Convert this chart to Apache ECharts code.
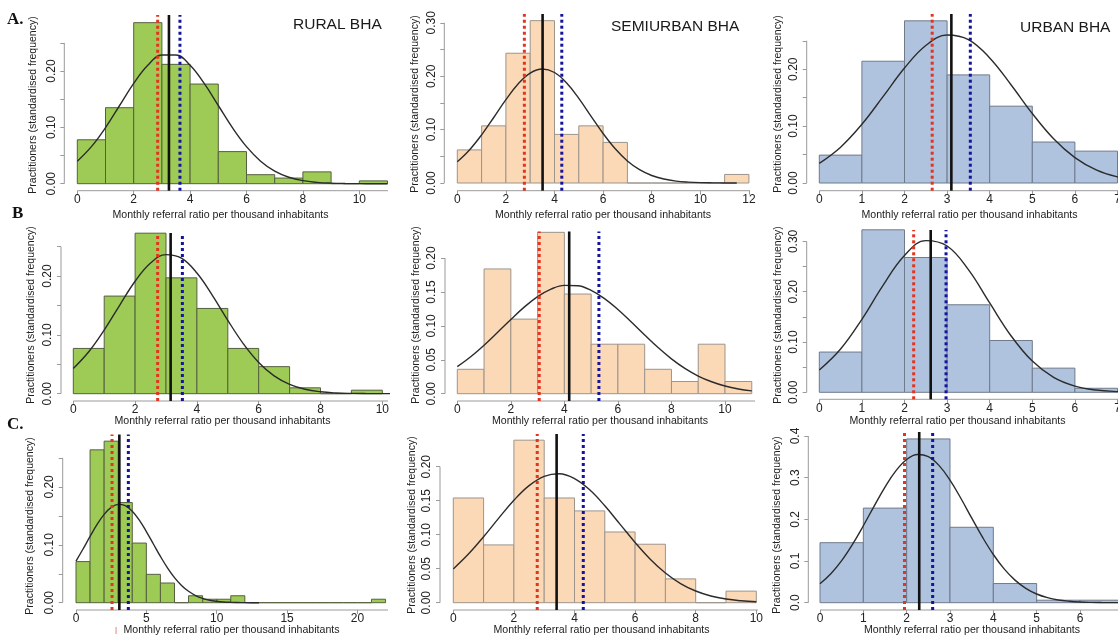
<!DOCTYPE html>
<html>
<head>
<meta charset="utf-8">
<script src="https://cdn.jsdelivr.net/npm/echarts@6/dist/echarts.min.js"></script>
<style>
  html, body { margin: 0; background: #fff; }
  #chart { width: 1118px; height: 635px; }
</style>
</head>
<body>
<div id="chart"></div>
<script>
// bar heights, one bin per unit starting at 0 (standardised frequency)
const ruralA = [0.078, 0.135, 0.286, 0.212, 0.177, 0.057, 0.016, 0.010, 0.021, 0, 0.005];
const semiA  = [0.062, 0.107, 0.243, 0.304, 0.091, 0.107, 0.076, 0, 0, 0, 0, 0.016];
const urbanA = [0.049, 0.214, 0.285, 0.190, 0.135, 0.072, 0.056];
const ruralB = [0.077, 0.166, 0.273, 0.197, 0.145, 0.077, 0.046, 0.010, 0, 0.006];
const semiB  = [0.036, 0.184, 0.110, 0.238, 0.147, 0.073, 0.073, 0.036, 0.018, 0.073, 0.018];
const urbanB = [0.080, 0.323, 0.268, 0.174, 0.103, 0.048, 0.008];
const ruralC = [0.071, 0.264, 0.279, 0.173, 0.103, 0.049, 0.034, 0, 0.012, 0.006, 0.006, 0.012,
                0, 0, 0, 0, 0, 0, 0, 0, 0, 0.006];
const semiC  = [0.154, 0.085, 0.239, 0.154, 0.135, 0.104, 0.086, 0.035, 0, 0.017];
const urbanC = [0.144, 0.227, 0.393, 0.181, 0.046, 0.006, 0.006];

// normal curves, read every half unit (quarter unit for the narrow urban C curve)
const halfSteps = [0, 0.5, 1, 1.5, 2, 2.5, 3, 3.5, 4, 4.5, 5, 5.5, 6, 6.5, 7, 7.5, 8, 8.5, 9, 9.5,
                   10, 10.5, 11, 11.5, 12, 12.5, 13];
const quarterSteps = [0, 0.25, 0.5, 0.75, 1, 1.25, 1.5, 1.75, 2, 2.25, 2.5, 2.75, 3, 3.25, 3.5, 3.75,
                      4, 4.25, 4.5, 4.75, 5, 5.25, 5.5, 5.75, 6, 6.25, 6.5, 6.75, 7];
const curveRuralA = [0.0400, 0.0658, 0.0996, 0.1389, 0.1782, 0.2104, 0.2286, 0.2286, 0.2104, 0.1782, 0.1389,
                     0.0996, 0.0658, 0.0400, 0.0223, 0.0115, 0.0054, 0.0024, 0.0010, 0.0004, 0.0001, 0, 0];
const curveSemiA  = [0.0398, 0.0619, 0.0902, 0.1227, 0.1560, 0.1854, 0.2058, 0.2135, 0.2069, 0.1874, 0.1586,
                     0.1254, 0.0927, 0.0640, 0.0413, 0.0249, 0.0140, 0.0074, 0.0036, 0.0017, 0.0007, 0.0003, 0.0001, 0];
const curveUrbanA = [0.0346, 0.0630, 0.1032, 0.1522, 0.2021, 0.2416, 0.2601, 0.2520, 0.2198, 0.1727, 0.1221,
                     0.0777, 0.0446, 0.0230, 0.0107, 0.0045];
const curveRuralB = [0.0430, 0.0714, 0.1083, 0.1504, 0.1912, 0.2223, 0.2366, 0.2304, 0.2052, 0.1673, 0.1248,
                     0.0852, 0.0532, 0.0304, 0.0159, 0.0076, 0.0033, 0.0013, 0.0005, 0.0002, 0.0001, 0];
const curveSemiB  = [0.0400, 0.0546, 0.0716, 0.0903, 0.1095, 0.1277, 0.1431, 0.1542, 0.1598, 0.1592, 0.1524,
                     0.1403, 0.1242, 0.1057, 0.0865, 0.0680, 0.0514, 0.0374, 0.0261, 0.0176, 0.0113, 0.0070, 0.0042];
const curveUrbanB = [0.0443, 0.0860, 0.1452, 0.2131, 0.2719, 0.3016, 0.2908, 0.2438, 0.1776, 0.1125, 0.0620,
                     0.0297, 0.0124, 0.0045, 0.0014, 0.0004];
const curveRuralC = [0.0717, 0.0927, 0.1144, 0.1351, 0.1525, 0.1646, 0.1698, 0.1676, 0.1581, 0.1426, 0.1229,
                     0.1014, 0.0799, 0.0602, 0.0434, 0.0299, 0.0197, 0.0124, 0.0075, 0.0043, 0.0024, 0.0012,
                     0.0006, 0.0003, 0.0001, 0, 0];
const curveSemiC  = [0.0497, 0.0715, 0.0970, 0.1244, 0.1506, 0.1722, 0.1859, 0.1896, 0.1825, 0.1660, 0.1425,
                     0.1156, 0.0886, 0.0640, 0.0437, 0.0282, 0.0172, 0.0099, 0.0054, 0.0028, 0.0013];
const curveUrbanC = [0.0455, 0.0695, 0.1010, 0.1399, 0.1846, 0.2319, 0.2776, 0.3165, 0.3438, 0.3557, 0.3505,
                     0.3290, 0.2942, 0.2507, 0.2034, 0.1572, 0.1157, 0.0812, 0.0542, 0.0345, 0.0209, 0.0121,
                     0.0066, 0.0035, 0.0017, 0.0008, 0.0004, 0.0002, 0.0001];

// vertical reference lines, panels in reading order
const redDotted  = [2.85, 2.76, 2.65, 2.73, 3.06, 2.215, 2.56, 2.77, 1.95];
const blackSolid = [3.25, 3.51, 3.10, 3.15, 4.18, 2.615, 3.08, 3.41, 2.29];
const blueDotted = [3.64, 4.30, 3.545, 3.53, 5.29, 2.975, 3.72, 4.29, 2.60];

// tick labels
const xTicks10 = [0, 2, 4, 6, 8, 10];
const xTicks12 = [0, 2, 4, 6, 8, 10, 12];
const xTicks7 = [0, 1, 2, 3, 4, 5, 6, 7];
const xTicks6 = [0, 1, 2, 3, 4, 5, 6];
const xTicks20 = [0, 5, 10, 15, 20];
const yTicks25 = [0, 0.05, 0.1, 0.15, 0.2, 0.25];
const yTicks30 = [0, 0.05, 0.1, 0.15, 0.2, 0.25, 0.3];
const yTicks20 = [0, 0.05, 0.1, 0.15, 0.2];
const yTicks40 = [0, 0.1, 0.2, 0.3, 0.4];
const yLabels20 = [0, 0.1, 0.2];
const yLabels30 = [0, 0.1, 0.2, 0.3];

const FONT = '"Liberation Sans", Arial, sans-serif';
const FILLS = ['#9DCB55', '#FCD9B6', '#AFC3DF'];
const EDGES = ['#56603f', '#9d948a', '#6f7a8a'];
const AXIS = '#9a9a9a';
const TEXT = '#222';

// pixel placement of every panel (x0/y0 = pixel of value 0, kx/ky = pixels per unit)
const panels = [
  { bars: ruralA, curve: curveRuralA, cx: halfSteps, col: 0, x0: 77.3, kx: 28.2, y0: 183.7, ky: 563, axX: 64.3, axY: 190.7, right: 388, plotTop: 15, yTop: 0.25, xt: xTicks10, yt: yTicks25, yl: yLabels20, dec: 2, name: [33, 105], xname: [220.5, 215] },
  { bars: semiA, curve: curveSemiA, cx: halfSteps, col: 1, x0: 457.3, kx: 24.3, y0: 183, ky: 534, axX: 444.3, axY: 190.7, right: 750, plotTop: 14, yTop: 0.30, xt: xTicks12, yt: yTicks30, yl: yLabels30, dec: 2, name: [415, 104], xname: [603, 215] },
  { bars: urbanA, curve: curveUrbanA, cx: halfSteps, col: 2, x0: 819.3, kx: 42.6, y0: 183, ky: 569, axX: 806.7, axY: 190.7, right: 1118, plotTop: 14, yTop: 0.25, xt: xTicks7, yt: yTicks25, yl: yLabels20, dec: 2, name: [778, 104], xname: [969.5, 215] },
  { bars: ruralB, curve: curveRuralB, cx: halfSteps, col: 0, x0: 73.3, kx: 30.9, y0: 393.7, ky: 588, axX: 61, axY: 401, right: 388, plotTop: 233, yTop: 0.25, xt: xTicks10, yt: yTicks25, yl: yLabels20, dec: 2, name: [30.7, 315], xname: [222.5, 421.5] },
  { bars: semiB, curve: curveSemiB, cx: halfSteps, col: 1, x0: 457.3, kx: 26.77, y0: 393.7, ky: 678, axX: 445, axY: 401, right: 755, plotTop: 231.5, yTop: 0.20, xt: xTicks10, yt: yTicks20, yl: yTicks20, dec: 2, name: [415.7, 315], xname: [600, 421.5] },
  { bars: urbanB, curve: curveUrbanB, cx: halfSteps, col: 2, x0: 819.3, kx: 42.6, y0: 392.3, ky: 503, axX: 806.7, axY: 399.3, right: 1118, plotTop: 230, yTop: 0.30, xt: xTicks7, yt: yTicks30, yl: yLabels30, dec: 2, name: [778, 315], xname: [957.5, 421.5] },
  { bars: ruralC, curve: curveRuralC, cx: halfSteps, col: 0, x0: 76, kx: 14.07, y0: 602.7, ky: 579, axX: 62.7, axY: 610, right: 388, plotTop: 434.5, yTop: 0.25, xt: xTicks20, yt: yTicks25, yl: yLabels20, dec: 2, name: [30, 526], xname: [231.5, 630] },
  { bars: semiC, curve: curveSemiC, cx: halfSteps, col: 1, x0: 453.3, kx: 30.3, y0: 602.7, ky: 680, axX: 440, axY: 610, right: 758, plotTop: 434, yTop: 0.20, xt: xTicks10, yt: yTicks20, yl: yTicks20, dec: 2, name: [411.7, 525], xname: [601.5, 630] },
  { bars: urbanC, curve: curveUrbanC, cx: quarterSteps, col: 2, x0: 820, kx: 43.33, y0: 602.7, ky: 416.7, axX: 808.3, axY: 610, right: 1118, plotTop: 432, yTop: 0.40, xt: xTicks6, yt: yTicks40, yl: yTicks40, dec: 1, name: [776.7, 525], xname: [972, 630] }
];

const LINE_STYLES = [
  { stroke: '#e2341f', lineWidth: 3, lineDash: [3, 3] },
  { stroke: '#111', lineWidth: 2.6 },
  { stroke: '#14149e', lineWidth: 3, lineDash: [3, 3] }
];

const grid = [], xAxis = [], yAxis = [], series = [], graphic = [];

panels.forEach((p, i) => {
  const xMin = (p.axX - p.x0) / p.kx;
  const xMax = (p.right - p.x0) / p.kx;
  const yMin = -(p.axY - p.y0) / p.ky;
  const top = p.y0 - p.yTop * p.ky;
  const plotTopV = (p.y0 - p.plotTop) / p.ky;

  grid.push({ left: p.axX, top: top, width: p.right - p.axX, height: p.axY - top,
              containLabel: false, outerBoundsMode: 'none' });

  xAxis.push({
    gridIndex: i, type: 'value', min: xMin, max: xMax,
    axisLine: { show: false, onZero: false },
    axisTick: { show: true, customValues: p.xt, length: 4, lineStyle: { color: AXIS } },
    axisLabel: { customValues: p.xt, margin: 3, fontSize: 12, color: TEXT, fontFamily: FONT },
    splitLine: { show: false }
  });
  yAxis.push({
    gridIndex: i, type: 'value', min: yMin, max: p.yTop,
    axisLine: { show: false, onZero: false },
    axisTick: { show: true, customValues: p.yt, length: 4, lineStyle: { color: AXIS } },
    axisLabel: { customValues: p.yl, rotate: 90, margin: 7, fontSize: 12, color: TEXT, fontFamily: FONT,
                 formatter: v => v.toFixed(p.dec) },
    splitLine: { show: false }
  });

  // histogram
  series.push({
    type: 'custom', xAxisIndex: i, yAxisIndex: i, clip: false, silent: true, z: 2,
    data: p.bars.map((h, j) => [j, j + 1, h]),
    renderItem: (params, api) => {
      const a = api.coord([api.value(0), 0]);
      const b = api.coord([api.value(1), api.value(2)]);
      return { type: 'rect', shape: { x: a[0], y: b[1], width: b[0] - a[0], height: a[1] - b[1] },
               style: { fill: FILLS[p.col], stroke: EDGES[p.col], lineWidth: 1 } };
    }
  });

  // fitted curve
  series.push({
    type: 'line', xAxisIndex: i, yAxisIndex: i, clip: false, silent: true, z: 3,
    smooth: 0.4, symbol: 'none',
    lineStyle: { color: '#2b2b2b', width: 1.4 },
    data: p.curve.map((v, j) => [p.cx[j], v])
  });

  // axis lines, R style (detached corner)
  series.push({
    type: 'line', xAxisIndex: i, yAxisIndex: i, clip: false, silent: true, symbol: 'none', z: 1,
    lineStyle: { color: AXIS, width: 1 },
    data: [[p.xt[0], yMin], [xMax, yMin]]
  });
  series.push({
    type: 'line', xAxisIndex: i, yAxisIndex: i, clip: false, silent: true, symbol: 'none', z: 1,
    lineStyle: { color: AXIS, width: 1 },
    data: [[xMin, 0], [xMin, p.yTop]]
  });

  // median / mean / mean reference lines
  series.push({
    type: 'custom', xAxisIndex: i, yAxisIndex: i, clip: false, silent: true, z: 5,
    data: [[redDotted[i], 0], [blackSolid[i], 1], [blueDotted[i], 2]],
    renderItem: (params, api) => {
      const v = api.value(0);
      const a = api.coord([v, yMin]);
      const b = api.coord([v, plotTopV]);
      return { type: 'line', shape: { x1: a[0], y1: a[1], x2: b[0], y2: b[1] },
               style: LINE_STYLES[api.value(1)] };
    }
  });

  graphic.push({
    type: 'text', x: p.name[0], y: p.name[1], rotation: Math.PI / 2, silent: true,
    style: { text: 'Practitioners (standardised frequency)', fill: TEXT,
             font: '10.5px ' + FONT, textAlign: 'center', textVerticalAlign: 'middle' }
  });
  graphic.push({
    type: 'text', x: p.xname[0], y: p.xname[1], silent: true,
    style: { text: 'Monthly referral ratio per thousand inhabitants', fill: TEXT,
             font: '10.6px ' + FONT, textAlign: 'center', textVerticalAlign: 'middle' }
  });
});

const titles = [['RURAL BHA', 293, 25], ['SEMIURBAN BHA', 611, 27], ['URBAN BHA', 1020, 27.5]];
titles.forEach(t => graphic.push({
  type: 'text', x: t[1], y: t[2], silent: true,
  style: { text: t[0], fill: '#1a1a1a', font: '15.5px ' + FONT, textAlign: 'left', textVerticalAlign: 'middle' }
}));
const letters = [['A.', 7, 20], ['B', 12, 214], ['C.', 7, 425]];
letters.forEach(t => graphic.push({
  type: 'text', x: t[1], y: t[2], silent: true,
  style: { text: t[0], fill: '#111', font: 'bold 17px "Liberation Serif", serif', textAlign: 'left', textVerticalAlign: 'middle' }
}));
graphic.push({
  type: 'text', x: 116, y: 630, silent: true,
  style: { text: '|', fill: '#d05050', font: '8px ' + FONT, textAlign: 'center', textVerticalAlign: 'middle' }
});

const chart = echarts.init(document.getElementById('chart'));
chart.setOption({
  animation: false,
  backgroundColor: '#fff',
  grid, xAxis, yAxis, series, graphic
});
</script>
</body>
</html>
